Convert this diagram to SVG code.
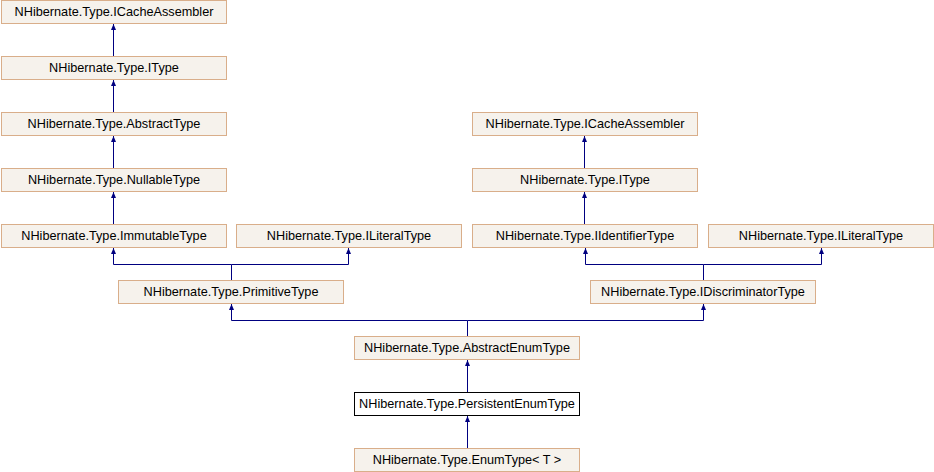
<svg xmlns="http://www.w3.org/2000/svg" width="934" height="472" viewBox="0 0 934 472">
<style>
.n rect{fill:#F6F2EC;stroke:#D9AE8A;stroke-width:1}
.n.cur rect{fill:#FFFFFF;stroke:#000000}
.n text{font-family:"Liberation Sans",Arial,sans-serif;font-size:12.7px;fill:#000;text-anchor:middle}
.e path{fill:none;stroke:#000080;stroke-width:1;marker-end:url(#a)}
</style>
<defs>
<marker id="a" markerWidth="6" markerHeight="6" refX="6" refY="3" orient="auto" markerUnits="userSpaceOnUse" viewBox="0 0 6 6">
<path d="M0,0.5 L6,3 L0,5.5 Z" fill="#000080" stroke="none"/>
</marker>
</defs>
<rect width="934" height="472" fill="#fff"/>
<g class="e">
<path d="M113.5,56.5 V24"/>
<path d="M113.5,112.5 V80"/>
<path d="M113.5,168.5 V136"/>
<path d="M113.5,224.5 V192"/>
<path d="M584.5,168.5 V136"/>
<path d="M584.5,224.5 V192"/>
<path d="M231.5,280.5 V264.5 H113.5 V248"/>
<path d="M231.5,264.5 H348.5 V248"/>
<path d="M703.5,280.5 V264.5 H585.5 V248"/>
<path d="M703.5,264.5 H821.5 V248"/>
<path d="M467.5,336.5 V320.5 H231.5 V304"/>
<path d="M467.5,320.5 H703.5 V304"/>
<path d="M467.5,392.5 V360"/>
<path d="M467.5,448.5 V416"/>
</g>
<g id="n1" class="n"><rect x="1.5" y="0.5" width="225" height="23"/><text x="114" y="16">NHibernate.Type.ICacheAssembler</text></g>
<g id="n2" class="n"><rect x="1.5" y="56.5" width="225" height="23"/><text x="114" y="72">NHibernate.Type.IType</text></g>
<g id="n3" class="n"><rect x="1.5" y="112.5" width="225" height="23"/><text x="114" y="128">NHibernate.Type.AbstractType</text></g>
<g id="n4" class="n"><rect x="1.5" y="168.5" width="225" height="23"/><text x="114" y="184">NHibernate.Type.NullableType</text></g>
<g id="n5" class="n"><rect x="1.5" y="224.5" width="225" height="23"/><text x="114" y="240">NHibernate.Type.ImmutableType</text></g>
<g id="n6" class="n"><rect x="236.5" y="224.5" width="225" height="23"/><text x="349" y="240">NHibernate.Type.ILiteralType</text></g>
<g id="n7" class="n"><rect x="118.5" y="280.5" width="225" height="23"/><text x="231" y="296">NHibernate.Type.PrimitiveType</text></g>
<g id="n8" class="n"><rect x="472.5" y="112.5" width="225" height="23"/><text x="585" y="128">NHibernate.Type.ICacheAssembler</text></g>
<g id="n9" class="n"><rect x="472.5" y="168.5" width="225" height="23"/><text x="585" y="184">NHibernate.Type.IType</text></g>
<g id="n10" class="n"><rect x="472.5" y="224.5" width="225" height="23"/><text x="585" y="240">NHibernate.Type.IIdentifierType</text></g>
<g id="n11" class="n"><rect x="708.5" y="224.5" width="225" height="23"/><text x="821" y="240">NHibernate.Type.ILiteralType</text></g>
<g id="n12" class="n"><rect x="590.5" y="280.5" width="225" height="23"/><text x="703" y="296">NHibernate.Type.IDiscriminatorType</text></g>
<g id="n13" class="n"><rect x="354.5" y="336.5" width="225" height="23"/><text x="467" y="352">NHibernate.Type.AbstractEnumType</text></g>
<g id="n14" class="n cur"><rect x="354.5" y="392.5" width="225" height="23"/><text x="467" y="408">NHibernate.Type.PersistentEnumType</text></g>
<g id="n15" class="n"><rect x="354.5" y="448.5" width="225" height="23"/><text x="467" y="464">NHibernate.Type.EnumType&lt; T &gt;</text></g>
</svg>
